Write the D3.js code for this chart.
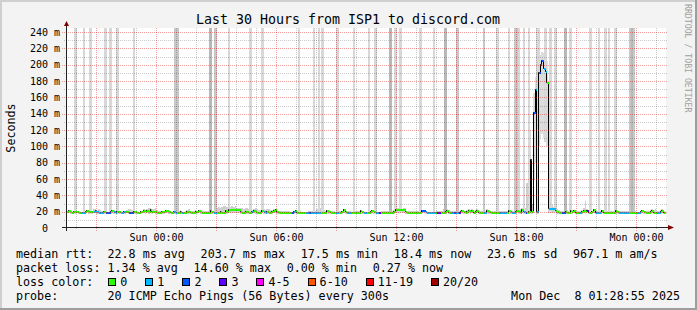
<!DOCTYPE html>
<html>
<head>
<meta charset="utf-8">
<script src="https://cdn.jsdelivr.net/npm/d3@7"></script>
<style>
  body { margin: 0; background: #fff; }
  svg text { font-family: "DejaVu Sans Mono", monospace; white-space: pre; }
</style>
</head>
<body>
<svg id="chart" width="697" height="310"></svg>
<script>
// 5 minute samples, first one starts Sat Dec 6 19:30 UTC
const median = [
  19,21,19,18.5,19,19,19,18.5,18,18,18,19,21,19,19,19,20,21,19,18,18,18.5,19,18,18,18,19,21,19,18,
  19,19,18.5,18.5,19,19,20,18,18,18,19,19,18.5,18.5,19,20,21,19,21,19,22,19,20,19,18.5,18.5,18.5,19,19,21,
  21,19,18.5,18.5,19,18,18,18.5,19,18,18,18.5,19,19,18.5,18.5,18.5,19,19,21,19,18.5,18.5,18.5,18.5,18.5,21,19,18.5,18,
  18,18.5,19,18.5,18.5,21,19,22,22.5,22.5,22.5,22.5,22.5,22,19,18.5,18.5,20,19,18.5,18.5,19,21,19,18.5,18.5,18.5,21,19,18.5,
  19,18.5,18.5,19,21,22,19,18.5,18.5,18.5,18.5,18.5,18.5,18.5,18,18,19,21,18.5,18.5,18.5,18.5,18.5,18,18,18,18,18,18,18,
  18.5,18.5,18.5,18.5,18.5,18.5,21,19,18.5,18.5,18.5,18,18,18.5,18.5,19,22,19,18,18,18,18.5,18.5,18.5,18.5,18.5,21,19,18,18,
  18.5,18.5,19,21,19,18.5,18.5,18,18,18.5,18.5,18.5,18.5,18.5,18.5,18.5,19,22.5,22.5,22.5,22.5,22.5,22.5,19,18.5,18.5,18.5,18.5,18.5,18.5,
  18.5,18.5,18.5,21,21,19,18,18,18,18,18,18,18,18.5,18.5,18.5,18.5,19,21,18.5,18,18,18,18,18,18,19,21,19,18.5,
  19,21,19,21,18.5,19,21,18.5,18.5,18.5,18.5,18.5,21,19,18.5,18.5,18.5,18.5,18.5,18,18,18,18,18,18.5,21,19,18,18,19,
  21,19,18.5,22,19,18,18.5,19,83,19,141,169,19,190,200,204,195,191,178,23,23,23,23,21,19,18.5,18.5,18,18,19,
  18.5,18.5,21,19,21,18.5,18.5,18.5,18.5,19,21,19,21,18,18.5,19,22,18.5,18,18,18.5,21,18.5,18.5,18.5,18.5,18.5,18.5,18.5,21,
  19,18,18,18,18,18,18,18.5,18.5,18.5,18.5,18.5,18,18,19,21,19,18.5,18.5,18.5,19,21,18.5,18.5,18,18,19,21,18.4
];

// lost pings out of 20, per sample
const loss = [
  0,0,0,0,0,0,0,0,1,1,1,0,0,0,0,0,1,1,1,1,1,1,0,2,2,2,0,0,1,1,
  0,0,0,1,1,0,0,2,2,2,0,0,0,0,0,0,0,0,0,0,0,0,0,0,0,0,0,0,0,0,
  0,0,0,0,1,1,0,0,1,1,0,0,0,0,0,0,0,0,0,0,0,0,0,0,0,0,0,0,1,1,
  0,0,0,0,0,0,0,0,0,0,0,0,0,0,0,0,0,0,0,0,0,1,0,0,0,0,0,0,1,1,
  0,0,0,0,0,0,0,0,0,0,0,0,0,0,1,2,1,0,0,0,0,0,0,1,1,2,1,1,1,1,
  1,1,0,0,0,0,0,0,0,0,0,1,1,0,0,0,0,0,1,1,1,0,0,0,0,0,0,0,1,1,
  0,0,0,0,0,1,1,3,0,0,0,0,0,0,0,0,0,0,0,0,1,0,0,0,0,0,0,0,0,0,
  0,0,0,2,2,1,1,1,1,1,1,0,3,3,0,0,0,0,0,0,1,1,2,1,1,3,0,0,0,0,
  0,0,0,0,0,0,0,0,0,0,1,1,0,0,0,0,0,0,0,1,1,1,1,1,0,0,1,1,1,0,
  0,0,1,0,1,2,0,0,3,0,2,1,1,2,2,2,1,1,0,1,1,1,1,0,0,0,0,2,2,0,
  0,0,0,0,0,0,0,1,1,0,0,0,3,0,0,0,0,1,1,1,0,0,0,0,0,0,0,0,0,0,
  0,1,1,1,1,1,1,0,0,0,0,0,1,1,0,0,0,0,0,0,0,0,0,0,1,1,0,0,0
];

// fastest ping per sample (ms)
const pingMin = [
  17.8,17.9,17.6,17.5,17.6,17.7,17.8,17.5,17.4,17.4,17.4,17.6,17.9,17.7,17.6,17.7,17.8,17.9,17.6,17.4,17.4,17.5,17.6,17.4,17.4,17.4,17.6,17.9,17.6,17.4,
  17.6,17.7,17.5,17.5,17.6,17.6,17.8,17.4,17.4,17.4,17.6,17.7,17.5,17.5,17.6,17.8,17.9,17.7,17.8,17.7,17.9,17.7,17.8,17.7,17.5,17.5,17.5,17.6,17.7,17.9,
  17.9,17.7,17.5,17.5,17.6,17.4,17.4,17.5,17.6,17.4,17.4,17.5,17.6,17.7,17.5,17.5,17.5,17.6,17.7,17.9,17.7,17.5,17.5,17.5,17.5,17.5,17.9,17.6,17.5,17.4,
  17.4,17.5,17.6,17.5,17.5,17.9,17.7,18.2,18.4,18.5,18.4,18.5,18.4,18.2,17.7,17.5,17.5,17.8,17.6,17.5,17.5,17.6,17.9,17.6,17.5,17.5,17.5,17.9,17.6,17.5,
  17.6,17.5,17.5,17.6,17.9,18.1,17.7,17.5,17.5,17.5,17.5,17.5,17.5,17.5,17.4,17.4,17.6,17.9,17.5,17.5,17.5,17.5,17.5,17.4,17.4,17.4,17.4,17.4,17.4,17.4,
  17.5,17.5,17.5,17.5,17.5,17.5,17.9,17.6,17.5,17.5,17.5,17.4,17.4,17.5,17.5,17.6,18.1,17.6,17.4,17.4,17.4,17.5,17.5,17.5,17.5,17.5,17.9,17.6,17.4,17.4,
  17.5,17.5,17.6,17.9,17.6,17.5,17.5,17.4,17.4,17.5,17.5,17.5,17.5,17.5,17.5,17.5,17.6,18.4,18.5,18.4,18.5,18.4,18.3,17.7,17.5,17.5,17.5,17.5,17.5,17.5,
  17.5,17.5,17.5,17.9,17.9,17.6,17.4,17.4,17.4,17.4,17.4,17.4,17.4,17.5,17.5,17.5,17.5,17.6,17.9,17.5,17.4,17.4,17.4,17.4,17.4,17.4,17.6,17.9,17.6,17.5,
  17.6,17.9,17.6,17.9,17.5,17.6,17.9,17.5,17.5,17.5,17.5,17.5,17.9,17.6,17.5,17.5,17.5,17.5,17.5,17.4,17.4,17.4,17.4,17.4,17.5,17.9,17.6,17.4,17.4,17.6,
  17.9,17.6,17.5,18.0,17.6,17.4,17.5,17.6,40,17.6,60,80,17.6,100,110,115,110,105,100,18.5,18.6,18.5,18.6,17.9,17.6,17.5,17.5,17.4,17.4,17.6,
  17.5,17.5,17.9,17.6,17.9,17.5,17.5,17.5,17.5,17.6,17.9,17.6,17.9,17.4,17.5,17.6,18.0,17.5,17.4,17.4,17.5,17.9,17.5,17.5,17.5,17.5,17.5,17.5,17.5,17.9,
  17.6,17.4,17.4,17.4,17.4,17.4,17.4,17.5,17.5,17.5,17.5,17.5,17.4,17.4,17.6,17.9,17.6,17.5,17.5,17.5,17.6,17.9,17.5,17.5,17.4,17.4,17.6,17.9,17.5
];

// slowest ping per sample (ms), some far above the chart
const pingMax = [
  21,22,20,20,20,400,20,20,20,20,400,20,22,20,400,20,23,23,22,23,22,21,20,400,20,20,400,21,22,20,
  400,20,20,20,21,21,22,23,23,22,400,20,20,20,21,21,23,22,23,24,24,23,23,24,22,21,21,20,20,22,
  22,21,21,20,20,500,500,21,22,20,20,21,22,23,21,21,21,22,21,22,21,21,21,21,21,21,500,21,20,500,
  24,26,25,26,27,27,26,400,26,27,26,27,25,25,24,24,23,25,24,23,400,22,23,24,23,22,22,400,23,22,
  23,23,22,22,23,23,22,21,21,21,21,21,21,21,20,20,21,22,21,400,21,20,20,20,20,21,21,21,400,21,
  23,400,24,400,22,21,22,21,21,21,21,20,400,21,21,21,23,21,21,21,21,20,400,21,21,21,22,21,20,20,
  20,400,21,22,21,400,20,20,20,21,21,21,21,21,600,21,22,400,24,24,400,23,24,24,21,21,21,21,21,21,
  21,21,400,22,22,21,20,20,20,20,400,20,21,21,21,21,23,600,23,22,21,21,21,21,600,21,22,22,21,21,
  22,23,22,23,21,22,23,21,21,21,400,21,23,22,21,21,21,21,400,21,21,21,21,21,21,500,22,21,21,500,
  500,500,23,24,400,25,55,400,120,30,165,185,500,500,212,215,214,400,205,40,400,28,26,400,23,22,21,21,21,600,
  22,21,400,22,22,21,21,21,21,22,24,33,23,21,400,21,23,21,21,400,21,22,21,400,21,400,21,21,21,400,
  22,21,21,21,21,21,21,21,600,600,600,21,20,20,21,22,21,21,21,21,22,23,22,23,21,21,22,23,21
];

// [sample, pings beyond the top of the chart]
const highPings = [
  [5,1],[10,1],[14,1],[23,1],[26,1],[30,1],[40,1],[65,2],[66,2],[86,3],[89,2],
  [97,1],[110,1],[117,1],[139,1],[148,1],[151,1],[153,1],[162,1],[172,1],
  [181,1],[185,1],[194,3],[197,1],[200,1],[212,1],[220,1],[227,3],[234,2],
  [250,2],[258,1],[265,1],[269,2],[270,2],[271,1],[274,1],[277,1],[282,1],[283,1],
  [287,1],[290,1],[293,1],[299,3],[302,1],[314,1],[319,1],[323,1],[325,1],[329,1],
  [338,2],[339,3],[340,2]
];

const lossLabels = ["0", "1", "2", "3", "4-5", "6-10", "11-19", "20/20"];
const lossUpper  = [0, 1, 2, 3, 5, 10, 19, 20];
const lossColors = ["#26ff00", "#00b8ff", "#0059ff", "#5e00ff", "#ff00ff", "#ff5500", "#ff0000", "#a10000"];

const rttStats  = ["22.8 ms avg", "203.7 ms max", "17.5 ms min", "18.4 ms now", "23.6 ms sd", "967.1 m am/s"];
const lossStats = ["1.34 % avg", "14.60 % max", "0.00 % min", "0.27 % now"];
const titleText = "Last 30 Hours from ISP1 to discord.com";
const probeText = "20 ICMP Echo Pings (56 Bytes) every 300s";
const stampText = "Mon Dec  8 01:28:55 2025";

const W = 697, H = 310;
const pL = 66, pR = 666, pT = 28, pB = 228;
const tEnd = new Date(Date.UTC(2025, 11, 8, 1, 28, 55));
const tStart = new Date(+tEnd - 30 * 3600e3);
const t0 = Date.UTC(2025, 11, 6, 19, 30);
const step = 300e3;

const x = d3.scaleUtc().domain([tStart, tEnd]).range([pL, pR]);
const y = d3.scaleLinear().domain([0, 245]).range([pB, pT]);
const sx = i => x(new Date(t0 + i * step));
const crisp = v => Math.round(v) + 0.5;

const svg = d3.select("#chart");

// frame
svg.append("rect").attr("width", W).attr("height", H).attr("fill", "#f3f3f3");
svg.append("path").attr("d", "M0,0H697V2H2V310H0Z").attr("fill", "#cfcfcf");
svg.append("path").attr("d", "M697,0V310H0V308H695V0Z").attr("fill", "#9e9e9e");
svg.append("rect").attr("x", pL).attr("y", pT)
  .attr("width", pR - pL).attr("height", pB - pT).attr("fill", "#fff");

svg.append("clipPath").attr("id", "plot").append("rect")
  .attr("x", pL + 1).attr("y", pT).attr("width", pR - pL).attr("height", pB - pT);

const plot = svg.append("g").attr("clip-path", "url(#plot)");

// smoke: ordinary spread, then the samples with pings off the top
const high = new Map(highPings);
const shade = {1: "#d8d8d8", 2: "#c8c8c8", 3: "#b8b8b8"};
const smokeTop = i => y(Math.min(pingMax[i], 250));
plot.append("g").attr("shape-rendering", "crispEdges")
  .selectAll("rect").data(median.map((d, i) => i).filter(i => !high.has(i))).join("rect")
  .attr("x", i => sx(i))
  .attr("width", i => sx(i + 1) - sx(i))
  .attr("y", i => smokeTop(i))
  .attr("height", i => y(pingMin[i]) - smokeTop(i))
  .attr("fill", i => pingMax[i] > 60 ? "#dcdcdc" : "#cecece");
plot.append("g").attr("shape-rendering", "crispEdges")
  .selectAll("rect").data(highPings).join("rect")
  .attr("x", d => Math.floor(sx(d[0])))
  .attr("width", d => Math.ceil(sx(d[0] + 1)) - Math.floor(sx(d[0])))
  .attr("y", d => smokeTop(d[0]))
  .attr("height", d => y(pingMin[d[0]]) - smokeTop(d[0]))
  .attr("fill", d => shade[d[1]]);

// grid
const grid = svg.append("g").attr("fill", "none").attr("stroke-dasharray", "1,1");
const minorGrid = "rgba(0,0,0,0.2)", majorGrid = "rgba(230,0,0,0.38)";
d3.range(10, 250, 10).forEach(v => {
  const major = v % 20 === 0;
  grid.append("line")
    .attr("x1", major ? pL - 4 : pL - 2).attr("x2", pR + 2)
    .attr("y1", crisp(y(v))).attr("y2", crisp(y(v)))
    .attr("stroke", major ? majorGrid : minorGrid);
});
x.ticks(d3.utcHour.every(1)).forEach(t => {
  const major = t.getUTCHours() % 3 === 0;
  grid.append("line")
    .attr("x1", crisp(x(t))).attr("x2", crisp(x(t)))
    .attr("y1", pT).attr("y2", major ? pB + 4 : pB + 2)
    .attr("stroke", major ? majorGrid : minorGrid);
});

// median line, black steps then loss coloured bars (pixel aligned)
const my = m => Math.round(y(m));
const pts = median.map((m, i) => [Math.round(sx(i)) + 0.5, my(m) - 0.5]);
pts.push([Math.round(sx(median.length)) + 0.5, my(median[median.length - 1]) - 0.5]);
plot.append("path")
  .attr("d", d3.line().curve(d3.curveStepAfter)(pts))
  .attr("fill", "none").attr("stroke", "#000").attr("stroke-width", 1);

const lossColor = c => lossColors[lossUpper.findIndex(u => c <= u)];
plot.append("g").attr("shape-rendering", "crispEdges")
  .selectAll("rect").data(median).join("rect")
  .attr("x", (d, i) => Math.round(sx(i)) + 1)
  .attr("width", (d, i) => Math.max(1, Math.round(sx(i + 1)) - Math.round(sx(i))))
  .attr("y", d => my(d) - 1).attr("height", 2)
  .attr("fill", (d, i) => lossColor(loss[i]));

// axes
svg.append("line").attr("x1", pL + 0.5).attr("x2", pL + 0.5)
  .attr("y1", pT - 2).attr("y2", pB + 3).attr("stroke", "#222");
svg.append("line").attr("x1", pL - 4).attr("x2", pR + 2)
  .attr("y1", pB - 0.5).attr("y2", pB - 0.5).attr("stroke", "#222");
svg.append("path").attr("d", `M${pL - 2},${pT - 2}L${pL + 0.5},${pT - 7}L${pL + 3},${pT - 2}Z`)
  .attr("fill", "#7f0000");
svg.append("path").attr("d", `M${pR + 2},${pB - 3}L${pR + 8},${pB - 0.5}L${pR + 2},${pB + 2}Z`)
  .attr("fill", "#7f0000");

// tick labels
const yl = svg.append("g").attr("font-size", 10).attr("text-anchor", "end");
d3.range(0, 250, 20).forEach(v => {
  yl.append("text").attr("x", v === 0 ? 48 : 60).attr("y", y(v) + 3.5)
    .text(v === 0 ? "0" : v + " m");
});
const fmt = d3.utcFormat("%a %H:%M");
svg.append("g").attr("font-size", 10).attr("text-anchor", "middle")
  .selectAll("text").data(x.ticks(d3.utcHour.every(6))).join("text")
  .attr("x", d => crisp(x(d))).attr("y", 241).text(fmt);

// titles
svg.append("text").attr("x", 348).attr("y", 24).attr("font-size", 13.3)
  .attr("text-anchor", "middle").text(titleText);
svg.append("text").attr("transform", "translate(15,128) rotate(-90)")
  .attr("font-size", 11.7).attr("text-anchor", "middle").text("Seconds");
svg.append("text").attr("transform", "translate(685,4) rotate(90)")
  .attr("font-size", 8.2).attr("fill", "#a0a0a0").text("RRDTOOL / TOBI OETIKER");

// legend, items spaced like rrdtool does
const lg = svg.append("g").attr("font-size", 11.7);
const legendRow = (label, items, yPos) => {
  lg.append("text").attr("x", 16).attr("y", yPos).text(label);
  let px = 107.5;
  items.forEach(s => {
    const t = lg.append("text").attr("x", px).attr("y", yPos).text(s);
    px += t.node().getComputedTextLength() + 15.7;
  });
};
legendRow("median rtt:", rttStats, 258);
legendRow("packet loss:", lossStats, 272);
lg.append("text").attr("x", 16).attr("y", 286).text("loss color:");
let lx = 108.3;
lossLabels.forEach((label, i) => {
  lg.append("rect").attr("x", Math.round(lx) + 0.5).attr("y", 278.5)
    .attr("width", 7).attr("height", 7)
    .attr("fill", lossColors[i]).attr("stroke", "#000");
  const t = lg.append("text").attr("x", lx + 12).attr("y", 286).text(label);
  lx += 12 + t.node().getComputedTextLength() + 18;
});
lg.append("text").attr("x", 16).attr("y", 300).text("probe:");
lg.append("text").attr("x", 107.5).attr("y", 300).text(probeText);
lg.append("text").attr("x", 680).attr("y", 300).attr("text-anchor", "end").text(stampText);
</script>
</body>
</html>
